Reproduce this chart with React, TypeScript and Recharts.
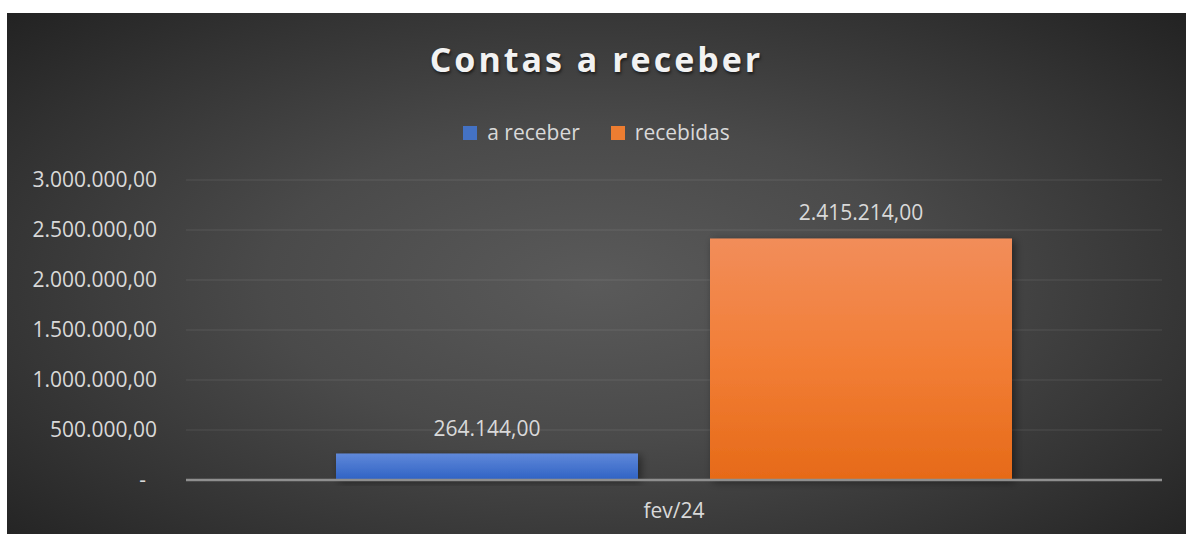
import React from 'react';
import { BarChart, Bar, XAxis, YAxis, CartesianGrid, Legend, LabelList } from 'recharts';

// Chart values
const categories = ['fev/24'];
const aReceber = [264144];
const recebidas = [2415214];
const yTicks = [0, 500000, 1000000, 1500000, 2000000, 2500000, 3000000];

const data = categories.map((name, i) => ({
  name,
  aReceber: aReceber[i],
  recebidas: recebidas[i],
}));

const series = [
  { key: 'aReceber', name: 'a receber', color: '#4472c4', grad: 'gradBlue' },
  { key: 'recebidas', name: 'recebidas', color: '#ed7d31', grad: 'gradOrange' },
];

const FONT = '"Open Sans", "Noto Sans", sans-serif';
const TEXT = '#d9d9d9';

const fmt = (v: number) =>
  v.toLocaleString('pt-BR', { minimumFractionDigits: 2, maximumFractionDigits: 2 });

function YTick({ x, y, payload }: any) {
  const isZero = payload.value === 0;
  return (
    <text
      x={isZero ? x - 11 : x}
      y={y}
      dy="0.35em"
      textAnchor="end"
      fill={TEXT}
      fontSize={21}
      fontFamily={FONT}
    >
      {isZero ? '-' : fmt(payload.value)}
    </text>
  );
}

function XTick({ x, y, payload }: any) {
  return (
    <text x={x} y={y} dy={38} textAnchor="middle" fill={TEXT} fontSize={21} fontFamily={FONT}>
      {payload.value}
    </text>
  );
}

function LegendContent() {
  return (
    <div style={{ display: 'flex', justifyContent: 'center', fontFamily: FONT, fontSize: 21, lineHeight: '27px', color: TEXT }}>
      {series.map((s, i) => (
        <div key={s.key} style={{ display: 'flex', alignItems: 'center', marginLeft: i ? 31 : 0 }}>
          <span style={{ width: 14, height: 14, background: s.color, display: 'inline-block', marginRight: 10 }} />
          <span>{s.name}</span>
        </div>
      ))}
    </div>
  );
}

export default function App() {
  return (
    <div
      style={{
        position: 'absolute',
        left: 7,
        top: 13,
        width: 1179,
        height: 521,
        background: 'radial-gradient(ellipse 70% 75% at 50% 52%, #5a5a5a 0%, #4a4a4a 40%, #333 75%, #222 100%)',
      }}
    >
      <div
        style={{
          position: 'absolute',
          top: 23,
          left: 0,
          width: 1179,
          textAlign: 'center',
          fontFamily: FONT,
          fontWeight: 700,
          fontSize: 34,
          letterSpacing: 3,
          color: '#f2f2f2',
          textShadow: '1px 2px 3px rgba(0,0,0,0.6)',
          zIndex: 2,
        }}
      >
        Contas a receber
      </div>
      <BarChart
        width={1179}
        height={521}
        data={data}
        margin={{ top: 140, right: 24, bottom: 0, left: 0 }}
        barSize={302}
        barGap={72}
      >
        <defs>
          <linearGradient id="gradBlue" x1="0" y1="0" x2="0" y2="1">
            <stop offset="0%" stopColor="#5f88d9" />
            <stop offset="100%" stopColor="#2f62c4" />
          </linearGradient>
          <linearGradient id="gradOrange" x1="0" y1="0" x2="0" y2="1">
            <stop offset="0%" stopColor="#f28d5a" />
            <stop offset="50%" stopColor="#f27e36" />
            <stop offset="100%" stopColor="#e66a18" />
          </linearGradient>
          <filter id="barShadow" x="-10%" y="-10%" width="130%" height="130%">
            <feDropShadow dx="3" dy="2" stdDeviation="4" floodColor="#000" floodOpacity="0.45" />
          </filter>
        </defs>
        <CartesianGrid vertical={false} stroke="rgba(255,255,255,0.1)" strokeWidth={1.2} />
        <YAxis
          width={179}
          domain={[0, 3000000]}
          ticks={yTicks}
          axisLine={false}
          tickLine={false}
          tickSize={0}
          tickMargin={29}
          tick={<YTick />}
          interval={0}
        />
        <XAxis
          dataKey="name"
          height={54}
          tickLine={false}
          tickSize={0}
          tickMargin={0}
          tick={<XTick />}
          axisLine={{ stroke: '#8f8f8f', strokeWidth: 2.5 }}
        />
        <Legend
          verticalAlign="top"
          height={27}
          content={<LegendContent />}
          wrapperStyle={{ top: 106, left: 0, width: 1179 }}
        />
        {series.map((s) => (
          <Bar
            key={s.key}
            dataKey={s.key}
            name={s.name}
            fill={`url(#${s.grad})`}
            filter="url(#barShadow)"
            isAnimationActive={false}
          >
            <LabelList
              dataKey={s.key}
              position="top"
              offset={18}
              formatter={(v: any) => fmt(Number(v))}
              fill={TEXT}
              fontSize={21}
              fontFamily={FONT}
            />
          </Bar>
        ))}
      </BarChart>
    </div>
  );
}
